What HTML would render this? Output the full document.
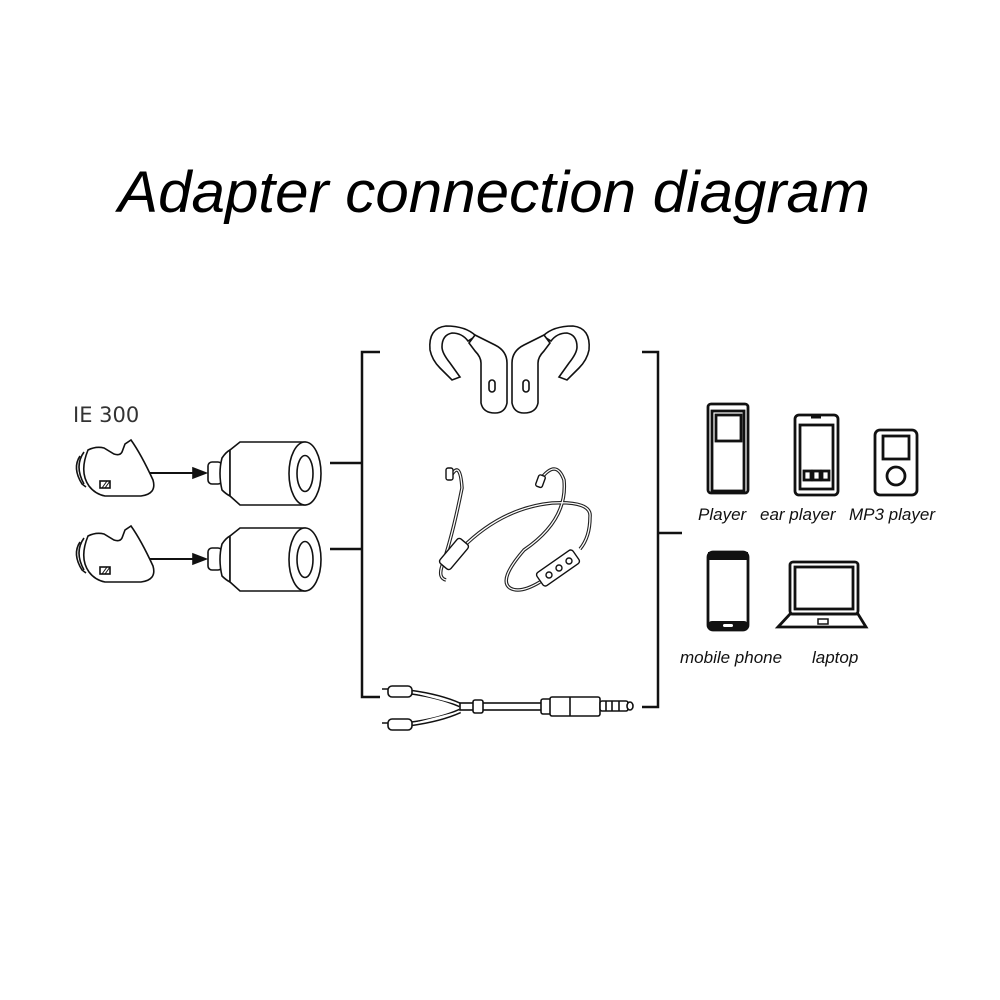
<!DOCTYPE html>
<html><head><meta charset="utf-8"><style>
html,body{margin:0;padding:0;background:#fff;}
svg{display:block}
</style></head><body>
<svg width="1000" height="1000" viewBox="0 0 1000 1000" xmlns="http://www.w3.org/2000/svg">
<rect width="1000" height="1000" fill="#fff"/>
<text x="118" y="212" font-family="Liberation Sans, sans-serif" font-style="italic" font-size="58" textLength="752" lengthAdjust="spacingAndGlyphs" fill="#000">Adapter connection diagram</text>

<g fill="none" stroke="#111" stroke-width="2.5">
<path d="M380 352 H362 V697 H380"/>
<path d="M330 463 H362 M330 549 H362"/>
<path d="M642 352 H658 V707 H642"/>
<path d="M658 533 H682"/>
</g>

<text x="73" y="422" font-family="DejaVu Sans, sans-serif" font-size="21" fill="#333">IE 300</text>

<g id="row" fill="#fff" stroke="#111" stroke-width="1.6">
<path d="M80 456 q-8 12 2 28 l4 3" />
<path d="M84 452 q-10 14 0 32" />
<path d="M88 450 q8 -4 16 -2 l10 6 q6 2 8 -2 l3 -8 l6 -4 q10 14 22 40 q4 14 -12 16 h-36 q-10 -2 -16 -10 q-10 -14 -1 -36z"/>
<rect x="100" y="481" width="10" height="7" fill="none"/>
<path d="M102 488 l5 -7 M105 488 l5 -7" stroke-width="1"/>
<path d="M150 473 H195" stroke-width="2"/>
<path d="M193 468 L206 473 L193 478z" fill="#111"/>
<rect x="208" y="462" width="14" height="22" rx="4"/>
<path d="M222 458 q-4 15 0 32 q4 4 8 6 V450 q-4 2 -8 8z"/>
<path d="M230 450 L240 442 H305 V505 H240 L230 496z"/>
<ellipse cx="305" cy="473.5" rx="16" ry="31.5"/>
<ellipse cx="305" cy="473.5" rx="8" ry="18"/>
</g>
<use href="#row" transform="translate(0,86)"/>

<g fill="#fff" stroke="#111" stroke-width="1.6">
<path d="M476 336 q-10 -10 -30 -10 q-18 2 -16 24 q2 10 10 18 l12 12 l8 -3 l-10 -14 q-8 -10 -8 -16 q0 -12 10 -14 q10 0 16 8z"/>
<path d="M475 335 l20 10 q12 6 12 18 v40 q-2 10 -12 10 q-12 0 -14 -10 v-40 q0 -6 -6 -12 l-6 -8z"/>
<rect x="489" y="380" width="6" height="12" rx="3"/>
<path d="M543 336 q10 -10 30 -10 q18 2 16 24 q-2 10 -10 18 l-12 12 l-8 -3 l10 -14 q8 -10 8 -16 q0 -12 -10 -14 q-10 0 -16 8z"/>
<path d="M544 335 l-20 10 q-12 6 -12 18 v40 q2 10 12 10 q12 0 14 -10 v-40 q0 -6 6 -12 l6 -8z"/>
<rect x="523" y="380" width="6" height="12" rx="3"/>
</g>

<g fill="none" stroke="#222" stroke-width="3.5">
<path d="M450 478 q10 -20 12 10 q-10 50 -20 78 q-4 12 4 14 M462 548 q40 -40 90 -45 q40 -2 38 14 q0 20 -10 32"/>
<path d="M540 480 q16 -22 24 0 q4 40 -40 70 q-26 30 -14 38 q10 6 30 -6"/>
</g>
<g fill="none" stroke="#fff" stroke-width="1.3">
<path d="M450 478 q10 -20 12 10 q-10 50 -20 78 q-4 12 4 14 M462 548 q40 -40 90 -45 q40 -2 38 14 q0 20 -10 32"/>
<path d="M540 480 q16 -22 24 0 q4 40 -40 70 q-26 30 -14 38 q10 6 30 -6"/>
</g>
<g fill="#fff" stroke="#111" stroke-width="1.4">
<rect x="446" y="468" width="7" height="12" rx="2"/>
<rect x="537" y="475" width="7" height="12" rx="2" transform="rotate(20 540 481)"/>
<rect x="447" y="538" width="14" height="32" rx="3" transform="rotate(40 454 554)"/>
<rect x="536" y="560" width="44" height="16" rx="3" transform="rotate(-35 558 568)"/>
<circle cx="549" cy="575" r="3"/><circle cx="559" cy="568" r="3"/><circle cx="569" cy="561" r="3"/>
</g>

<g fill="#fff" stroke="#111" stroke-width="1.6">
<path d="M410 692 q30 4 50 13 M410 724 q30 -4 50 -13" stroke-width="5"/>
<path d="M410 692 q30 4 50 13 M410 724 q30 -4 50 -13" stroke="#fff" stroke-width="2"/>
<rect x="388" y="686" width="24" height="11" rx="4"/>
<rect x="388" y="719" width="24" height="11" rx="4"/>
<path d="M382 689 h6 M382 723 h6"/>
<rect x="460" y="703" width="82" height="7" fill="#fff"/>
<rect x="473" y="700" width="10" height="13" rx="2"/>
<rect x="541" y="699" width="10" height="15" rx="2"/>
<rect x="550" y="697" width="50" height="19" rx="2"/>
<path d="M570 697 v19"/>
<rect x="600" y="701" width="28" height="10" rx="2"/>
<path d="M606 701 v10 M612 701 v10 M619 701 v10"/>
<rect x="627" y="702" width="6" height="8" rx="4"/>
</g>

<g fill="none" stroke="#111" stroke-width="2.8">
<rect x="708" y="404" width="40" height="89" rx="3"/>
<rect x="712" y="411" width="32" height="80"/>
<rect x="716" y="415" width="25" height="26"/>
<rect x="795" y="415" width="43" height="80" rx="4"/>
<rect x="800" y="425" width="33" height="64"/>
<path d="M811 417 h10" stroke-width="3"/>
<rect x="804" y="471" width="7" height="9"/><rect x="813" y="471" width="7" height="9"/><rect x="822" y="471" width="7" height="9"/>
<rect x="875" y="430" width="42" height="65" rx="5"/>
<rect x="883" y="436" width="26" height="23"/>
<circle cx="896" cy="476" r="9"/>
<rect x="708" y="552" width="40" height="78" rx="5"/>
<rect x="790" y="562" width="68" height="52" rx="3"/>
<rect x="795" y="567" width="58" height="42"/>
<path d="M778 627 L790 614 H858 L866 627z"/>
<rect x="818" y="619" width="10" height="5" stroke-width="1.5"/>
</g>
<rect x="708" y="552" width="40" height="8" fill="#111"/>
<rect x="708" y="621" width="40" height="9" rx="4" fill="#111"/>
<rect x="723" y="624" width="10" height="3" rx="1.5" fill="#fff"/>
<g font-family="Liberation Sans, sans-serif" font-style="italic" font-size="17" fill="#111">
<text x="698" y="520">Player</text>
<text x="760" y="520">ear player</text>
<text x="849" y="520">MP3 player</text>
<text x="680" y="663">mobile phone</text>
<text x="812" y="663">laptop</text>
</g>
</svg>
</body></html>
